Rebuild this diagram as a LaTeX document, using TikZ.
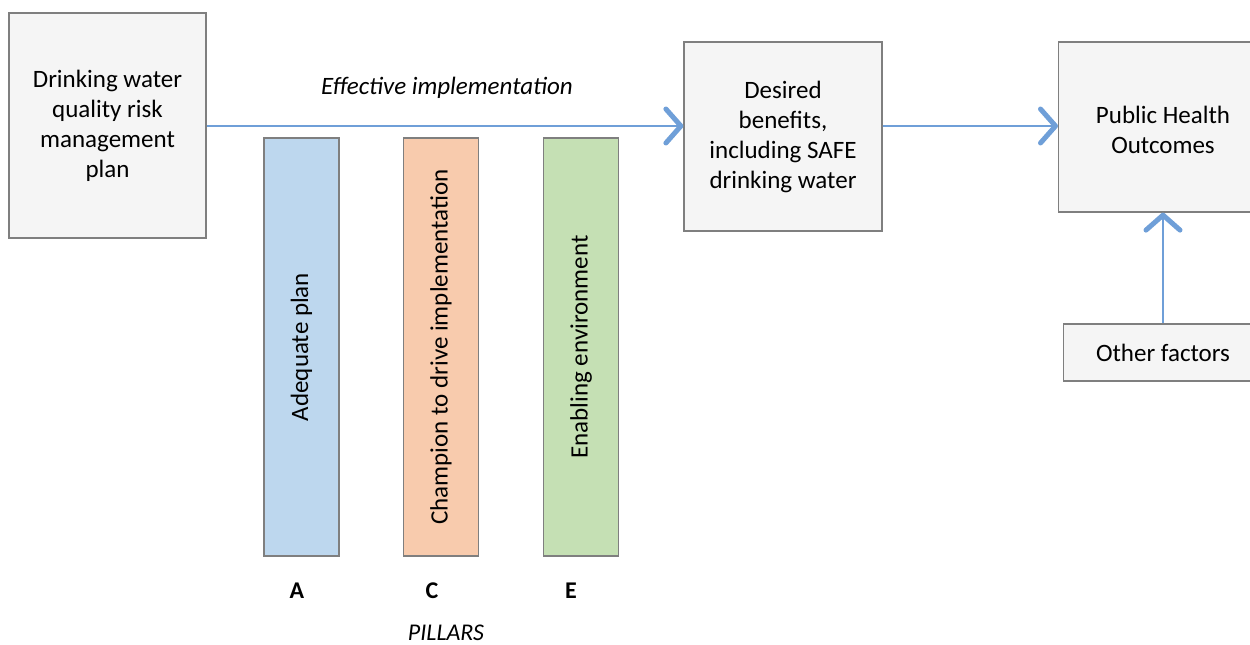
\documentclass[tikz,border=0pt]{standalone}
\usepackage{fontspec}
\setmainfont{Carlito}
\usetikzlibrary{arrows.meta,calc}
\definecolor{arrowblue}{HTML}{6F9FD8}
\definecolor{boxgray}{HTML}{F5F5F5}
\definecolor{edgegray}{HTML}{7F7F7F}
\definecolor{pblue}{HTML}{BDD7EE}
\definecolor{porange}{HTML}{F8CBAD}
\definecolor{pgreen}{HTML}{C5E0B4}
\tikzset{
  graybox/.style={draw=edgegray, fill=boxgray, line width=1.2pt, align=center, inner sep=0pt, font=\fontsize{25}{30}\selectfont},
  pillar/.style={draw=edgegray, line width=1.2pt, inner sep=0pt, minimum width=75pt, minimum height=418pt},
  ptext/.style={rotate=90, font=\fontsize{25}{30}\selectfont},
  conn/.style={draw=arrowblue, line width=1.8pt, -{Straight Barb[length=15pt,width=34pt,line width=5pt,line cap=round,round]}},
  lbl/.style={font=\fontsize{25}{30}\selectfont},
}
\begin{document}
\begin{tikzpicture}[x=1pt,y=-1pt]
\useasboundingbox (0,0) rectangle (1250,645);
\begin{scope}
\clip (0,0) rectangle (1250,645);
% boxes
\node[graybox, minimum width=197pt, minimum height=225pt] (plan) at (107.5,125.5) {Drinking water\\quality risk\\management\\plan};
\node[graybox, minimum width=198pt, minimum height=189pt] (benefits) at (783,136.5) {Desired\\benefits,\\including SAFE\\drinking water};
\node[graybox, minimum width=210pt, minimum height=170pt, anchor=west] (health) at (1058,127) {};
\node[font=\fontsize{25}{30}\selectfont, align=center] (healthtxt) at (1163,130) {Public Health\\Outcomes};
\node[graybox, minimum width=200pt, minimum height=57pt, anchor=west] (other) at (1063,352.5) {};
\node[font=\fontsize{25}{30}\selectfont] (othertxt) at (1163,353) {Other factors};
% pillars
\node[pillar, fill=pblue] (pa) at (301.5,347) {};
\node[pillar, fill=porange] (pc) at (441,347) {};
\node[pillar, fill=pgreen] (pe) at (581,347) {};
\node[ptext] (ta) at (pa.center) {Adequate plan};
\node[ptext] (tc) at (pc.center) {Champion to drive implementation};
\node[ptext] (te) at (pe.center) {Enabling environment};
% labels
\node[lbl, font=\fontsize{24}{30}\bfseries\selectfont] (la) at (297,591) {A};
\node[lbl, font=\fontsize{24}{30}\bfseries\selectfont] (lc) at (432,591) {C};
\node[lbl, font=\fontsize{24}{30}\bfseries\selectfont] (le) at (571,591) {E};
\node[lbl, font=\fontsize{24}{30}\itshape\selectfont] (pillars) at (446,633) {PILLARS};
\node[lbl, font=\fontsize{25}{30}\itshape\selectfont] (eff) at (447,88) {Effective implementation};
% connectors
\draw[conn] (plan.east |- 0,126) -- (benefits.west |- 0,126);
\draw[conn] (benefits.east |- 0,126) -- (health.west |- 0,126);
\draw[conn] (other.north -| othertxt) -- (health.south -| othertxt);
\end{scope}
\end{tikzpicture}
\end{document}
